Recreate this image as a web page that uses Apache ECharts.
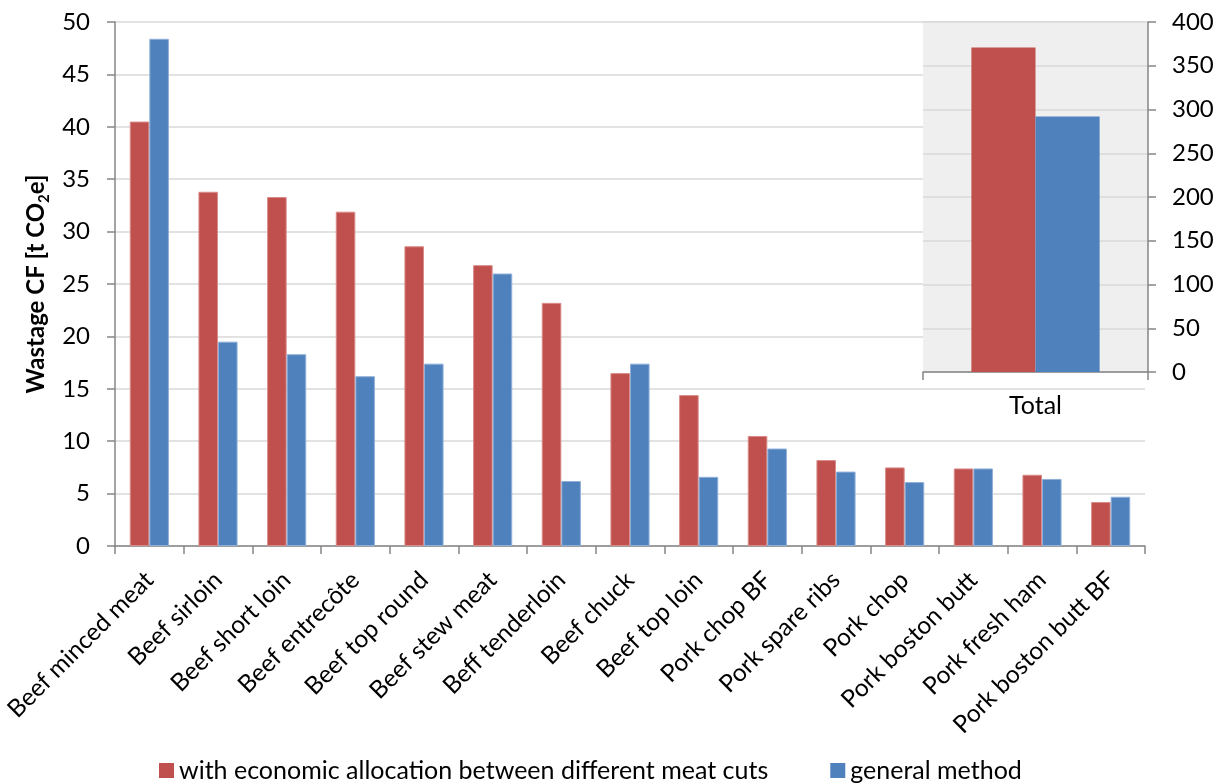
<!DOCTYPE html>
<html>
<head>
<meta charset="utf-8">
<script src="https://cdn.jsdelivr.net/npm/echarts@6/dist/echarts.min.js"></script>
<style>
  html, body { margin: 0; padding: 0; background: #ffffff; }
  #chart { width: 1225px; height: 783px; }
</style>
</head>
<body>
<div id="chart"></div>
<script>
// Meat cuts and their wastage carbon footprint [t CO2e]
const categories = [
  'Beef minced meat', 'Beef sirloin', 'Beef short loin', 'Beef entrecôte',
  'Beef top round', 'Beef stew meat', 'Beff tenderloin', 'Beef chuck',
  'Beef top loin', 'Pork chop BF', 'Pork spare ribs', 'Pork chop',
  'Pork boston butt', 'Pork fresh ham', 'Pork boston butt BF'
];
const economicAllocation = [40.5, 33.8, 33.3, 31.9, 28.6, 26.8, 23.2, 16.5, 14.4, 10.5, 8.2, 7.5, 7.4, 6.8, 4.2];
const generalMethod      = [48.4, 19.5, 18.3, 16.2, 17.4, 26.0, 6.2, 17.4, 6.6, 9.3, 7.1, 6.1, 7.4, 6.4, 4.7];

// Totals shown in the inset panel (right axis)
const totalCategories = ['Total'];
const totalEconomic = [371];
const totalGeneral = [292];

const seriesNames = ['with economic allocation between different meat cuts', 'general method'];

const RED = '#C0504D';
const BLUE = '#4F81BD';
const AXIS = '#868686';
const GRID = '#D9D9D9';
const FONT = 'Lato';

const chart = echarts.init(document.getElementById('chart'), null, { renderer: 'canvas' });

const barStyle = (color, edge) => ({ color: color, borderColor: edge, borderWidth: 1 });

const option = {
  animation: false,
  textStyle: { fontFamily: FONT },
  grid: [
    { left: 115, right: 80, top: 22, bottom: 237, containLabel: false },
    { left: 923, right: 77, top: 22, bottom: 411, containLabel: false,
      show: true, backgroundColor: '#EFEFEF', borderWidth: 0, z: 5 }
  ],
  legend: {
    data: seriesNames,
    left: 154, top: 753,
    icon: 'rect',
    itemWidth: 15, itemHeight: 15, itemGap: 62,
    itemStyle: { borderWidth: 0 },
    textStyle: { fontFamily: FONT, fontSize: 25, color: '#000' }
  },
  xAxis: [
    {
      type: 'category', gridIndex: 0, data: categories,
      axisLine: { lineStyle: { color: AXIS, width: 1.5 } },
      axisTick: { show: true, length: 8, alignWithLabel: false, lineStyle: { color: AXIS, width: 1.5 } },
      axisLabel: { rotate: 45, margin: 30, interval: 0, fontFamily: FONT, fontSize: 24.5, color: '#000' },
      splitLine: { show: false }
    },
    {
      type: 'category', gridIndex: 1, data: totalCategories, z: 6,
      axisLine: { lineStyle: { color: AXIS, width: 1.5 } },
      axisTick: { show: true, length: 8, alignWithLabel: false, lineStyle: { color: AXIS, width: 1.5 } },
      axisLabel: { margin: 21, fontFamily: FONT, fontSize: 25, color: '#000' },
      splitLine: { show: false }
    }
  ],
  yAxis: [
    {
      type: 'value', gridIndex: 0, min: 0, max: 50, interval: 5,
      name: '{a|Wastage CF [t CO}{sub|2}{a|e]}',
      nameLocation: 'middle', nameGap: 53,
      nameTextStyle: {
        rich: {
          a: { fontFamily: FONT, fontSize: 24, fontWeight: 'bold', color: '#000', lineHeight: 30 },
          sub: { fontFamily: FONT, fontSize: 15, fontWeight: 'bold', color: '#000', lineHeight: 30, verticalAlign: 'bottom' }
        }
      },
      axisLine: { show: true, lineStyle: { color: AXIS, width: 1.5 } },
      axisTick: { show: true, length: 8, lineStyle: { color: AXIS, width: 1.5 } },
      axisLabel: { margin: 25, fontFamily: FONT, fontSize: 24, color: '#000' },
      splitLine: { show: true, lineStyle: { color: GRID, width: 1.5 } }
    },
    {
      type: 'value', gridIndex: 1, position: 'right', min: 0, max: 400, interval: 50, z: 6,
      axisLine: { show: true, lineStyle: { color: AXIS, width: 1.5 } },
      axisTick: { show: true, length: 8, lineStyle: { color: AXIS, width: 1.5 } },
      axisLabel: { margin: 24, fontFamily: FONT, fontSize: 24, color: '#000' },
      splitLine: { show: true, lineStyle: { color: GRID, width: 1.5 } }
    }
  ],
  series: [
    {
      name: seriesNames[0], type: 'bar', xAxisIndex: 0, yAxisIndex: 0,
      data: economicAllocation, barGap: '0%', barCategoryGap: '43%',
      itemStyle: barStyle(RED, '#D98C8A')
    },
    {
      name: seriesNames[1], type: 'bar', xAxisIndex: 0, yAxisIndex: 0,
      data: generalMethod, barGap: '0%', barCategoryGap: '43%',
      itemStyle: barStyle(BLUE, '#8FB0D9')
    },
    {
      name: seriesNames[0], type: 'bar', xAxisIndex: 1, yAxisIndex: 1, z: 7,
      data: totalEconomic, barGap: '0%', barCategoryGap: '43%',
      itemStyle: { color: RED }
    },
    {
      name: seriesNames[1], type: 'bar', xAxisIndex: 1, yAxisIndex: 1, z: 7,
      data: totalGeneral, barGap: '0%', barCategoryGap: '43%',
      itemStyle: { color: BLUE }
    }
  ]
};

chart.setOption(option);
</script>
</body>
</html>
